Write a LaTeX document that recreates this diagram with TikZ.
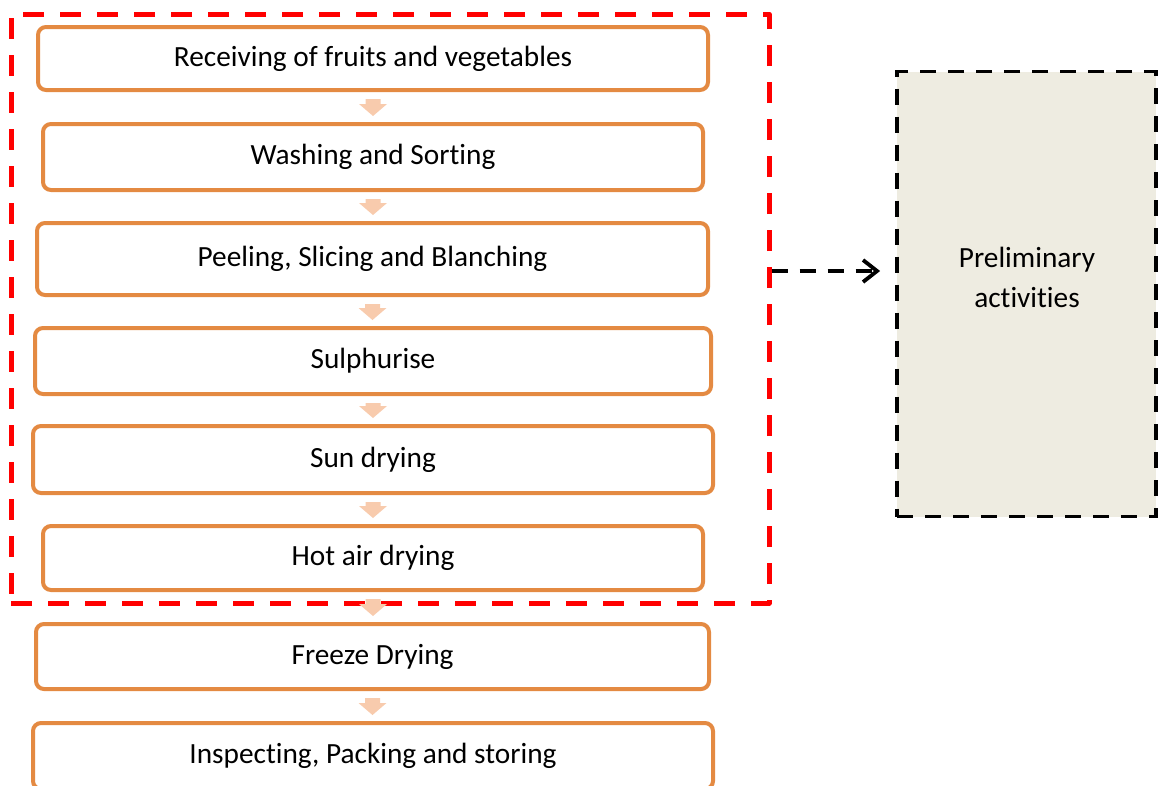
\documentclass[tikz,border=0pt]{standalone}
\usepackage{fontspec}
\setmainfont{Carlito}[Ligatures={NoCommon,NoContextual}]
\usetikzlibrary{arrows.meta,calc}
\definecolor{boxorange}{RGB}{228,138,66}
\definecolor{blockpeach}{RGB}{248,203,173}
\definecolor{tanfill}{HTML}{EEECE1}
\tikzset{
  stepbox/.style={draw=boxorange, line width=4pt, rounded corners=8pt, fill=white,
    inner sep=0pt, font=\fontsize{29.3}{35}\selectfont},
  groupbox/.style={draw=red, line width=5pt, dash pattern=on 21pt off 16pt, inner sep=0pt, line join=round},
  prelimbox/.style={draw=black, fill=tanfill, line width=3.8pt, dash pattern=on 16pt off 12pt, inner sep=0pt},
  dasharrow/.style={draw=black, line width=3.8pt, dash pattern=on 16pt off 12pt,
    -{Straight Barb[length=14pt,width=22pt,line width=3.8pt]}, shorten >=15pt},
  labeltext/.style={font=\fontsize{29.3}{40}\selectfont, align=center, inner sep=0pt}
}
\newcommand\blockarr[2]{%
  \fill[blockpeach] let \p1=(#1.south), \p2=(#2.north) in
    (\x1-7.5pt,\y1-7pt) -- (\x1+7.5pt,\y1-7pt) -- (\x1+7.5pt,\y2+18pt) --
    (\x1+14pt,\y2+18pt) -- (\x1,\y2+6pt) -- (\x1-14pt,\y2+18pt) --
    (\x1-7.5pt,\y2+18pt) -- cycle;}
\begin{document}
\begin{tikzpicture}[x=1pt,y=-1pt]
\useasboundingbox (0,0) rectangle (1158,785);
% group frame (behind)
\node[groupbox, minimum width=758pt, minimum height=589pt] (grp) at (390,308.5) {};
% steps
\node[stepbox, minimum width=670pt, minimum height=63pt] (b1) at (373,58.5) {Receiving of fruits and vegetables};
\node[stepbox, minimum width=660pt, minimum height=66pt] (b2) at (373,157) {Washing and Sorting};
\node[stepbox, minimum width=671pt, minimum height=72pt] (b3) at (372.5,259) {Peeling, Slicing and Blanching};
\node[stepbox, minimum width=676pt, minimum height=66pt] (b4) at (373,361) {Sulphurise};
\node[stepbox, minimum width=680pt, minimum height=67pt] (b5) at (373,459.5) {Sun drying};
\node[stepbox, minimum width=660pt, minimum height=64pt] (b6) at (373,558) {Hot air drying};
\node[stepbox, minimum width=673pt, minimum height=65pt] (b7) at (372.5,656.5) {Freeze Drying};
\node[stepbox, minimum width=680pt, minimum height=66pt] (b8) at (373,756) {Inspecting, Packing and storing};
% block arrows
\blockarr{b1}{b2}
\blockarr{b2}{b3}
\blockarr{b3}{b4}
\blockarr{b4}{b5}
\blockarr{b5}{b6}
\blockarr{b6}{b7}
\blockarr{b7}{b8}
% preliminary box
\node[prelimbox, minimum width=259pt, minimum height=445pt] (prelim) at (1026.5,294) {};
\node[labeltext] (plabel) at (1027,277) {Preliminary\\activities};
% dashed arrow
\coordinate (ay) at (0,271);
\draw[dasharrow] (grp.east |- ay) -- (prelim.west |- ay);
\end{tikzpicture}
\end{document}
